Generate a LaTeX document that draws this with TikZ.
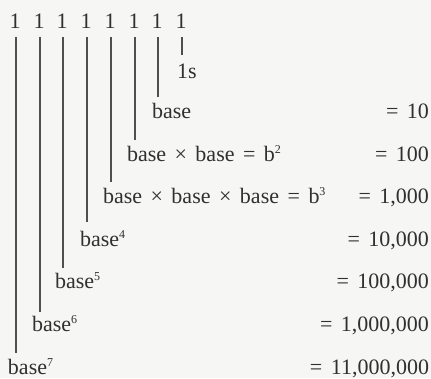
\documentclass[tikz,border=0pt]{standalone}
\usepackage{fontspec}
\setmainfont{Liberation Serif}
\definecolor{ink}{RGB}{48,48,48}
\definecolor{paper}{RGB}{246,246,244}
\newcommand\gtimes{\hspace{8.5pt}×\hspace{8.5pt}}
\newcommand\gequal{\hspace{8.5pt}=\hspace{8.5pt}}
\newcommand\pw[1]{\raisebox{0.36em}{\fontsize{12}{12}\selectfont #1}}
\begin{document}
\begin{tikzpicture}[x=1pt,y=-1pt,
  lbl/.style={inner sep=0pt, outer sep=0pt, text=ink, font=\fontsize{22}{24}\selectfont},
  one/.style={lbl, anchor=base},
  vline/.style={draw=ink!85, line width=1.3pt}]
\useasboundingbox[fill=paper] (0,0) rectangle (431,378);
% top row of ones and the lines under them
\foreach \i/\x/\yend in {1/16/353, 2/40/312, 3/63/268, 4/87/222, 5/111/182, 6/135/140, 7/158/97, 8/182/55} {
  \node[one] (o\i) at (\x-1,28.3) {1};
  \coordinate (e\i) at (\x,\yend);
  \draw[vline] ([yshift=-8.7pt]o\i.south -| e\i) -- (e\i);
}
% left column texts
\node[lbl, anchor=base west] (s1) at (177,78) {1s};
\node[lbl, anchor=base west] (t0) at (152,118.5) {base};
\node[lbl, anchor=base west] (t1) at (127,161.1) {base\gtimes base\gequal b\pw{2}};
\node[lbl, anchor=base west] (t2) at (103,203.7) {base\gtimes base\gtimes base\gequal b\pw{3}};
\node[lbl, anchor=base west] (t3) at (80,246.3) {base\pw{4}};
\node[lbl, anchor=base west] (t4) at (55,288.9) {base\pw{5}};
\node[lbl, anchor=base west] (t5) at (32,331.5) {base\pw{6}};
\node[lbl, anchor=base west] (t6) at (8,374.1) {base\pw{7}};
% right column values
\node[lbl, anchor=base east] (v0) at (429,118.5) {=\hspace{8.5pt}10};
\node[lbl, anchor=base east] (v1) at (429,161.1) {=\hspace{8.5pt}100};
\node[lbl, anchor=base east] (v2) at (429,203.7) {=\hspace{8.5pt}1,000};
\node[lbl, anchor=base east] (v3) at (429,246.3) {=\hspace{8.5pt}10,000};
\node[lbl, anchor=base east] (v4) at (429,288.9) {=\hspace{8.5pt}100,000};
\node[lbl, anchor=base east] (v5) at (429,331.5) {=\hspace{8.5pt}1,000,000};
\node[lbl, anchor=base east] (v6) at (429,374.1) {=\hspace{8.5pt}11,000,000};
\end{tikzpicture}
\end{document}
